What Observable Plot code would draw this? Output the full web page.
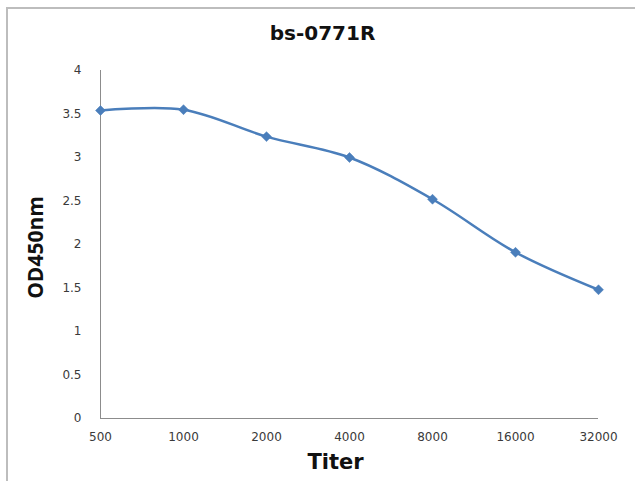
<!DOCTYPE html>
<html>
<head>
<meta charset="utf-8">
<script src="https://cdn.jsdelivr.net/npm/d3@7"></script>
<script src="https://cdn.jsdelivr.net/npm/@observablehq/plot@0.6"></script>
<style>
  html, body { margin: 0; padding: 0; background: #fff; overflow: hidden; }
  #wrap { position: relative; width: 635px; height: 481px; }
  #border { position: absolute; left: 6px; top: 7px; width: 700px; height: 600px;
            border-left: 2px solid #bdbdbd; border-top: 2px solid #bdbdbd; }
  #chart { position: absolute; left: 0; top: 0; }
</style>
</head>
<body>
<div id="wrap"><div id="border"></div><div id="chart"></div></div>
<script>
const titers = ["500", "1000", "2000", "4000", "8000", "16000", "32000"];
const od450 = [3.54, 3.55, 3.24, 3.00, 2.52, 1.91, 1.48];
const yTicks = [0, 0.5, 1, 1.5, 2, 2.5, 3, 3.5, 4];

const data = titers.map((t, i) => ({titer: t, od: od450[i]}));
const blue = "#4a7ebb";
const tickFont = "DejaVu Sans, Verdana, sans-serif";
const titleFont = "DejaVu Sans, Verdana, sans-serif";
const yLabelFont = "Open Sans, DejaVu Sans, sans-serif";

const chart = Plot.plot({
  width: 635,
  height: 481,
  marginLeft: 100,
  marginRight: 37,
  marginTop: 70,
  marginBottom: 63,
  style: {fontFamily: tickFont, fontSize: "12px", color: "#3a3a3a", background: "transparent"},
  x: {type: "point", domain: titers, padding: 0, label: null},
  y: {domain: [0, 4], label: null},
  marks: [
    Plot.axisY({ticks: yTicks, tickSize: 0, tickPadding: 19, tickFormat: d => String(d), fontSize: 12, fontFamily: tickFont}),
    Plot.axisX({tickSize: 0, tickPadding: 14, fontSize: 12, fontFamily: tickFont}),
    Plot.ruleX([titers[0]], {stroke: "#8c8c8c", strokeWidth: 1}),
    Plot.ruleY([0], {stroke: "#8c8c8c", strokeWidth: 1}),
    Plot.line(data, {x: "titer", y: "od", stroke: blue, strokeWidth: 2.5, curve: "catmull-rom"}),
    Plot.dot(data, {x: "titer", y: "od", symbol: "diamond2", r: 4.5, fill: blue, stroke: blue, strokeWidth: 0.5}),
    Plot.text(["bs-0771R"], {frameAnchor: "top", lineAnchor: "middle", dx: -27, dy: -37, fontSize: 20, fontWeight: "bold", fill: "#111", fontFamily: titleFont}),
    Plot.text(["Titer"], {frameAnchor: "bottom", lineAnchor: "middle", dx: -14, dy: 44, fontSize: 21, fontWeight: "bold", fill: "#111", fontFamily: titleFont}),
    Plot.text(["OD450nm"], {frameAnchor: "left", textAnchor: "middle", lineAnchor: "middle", dx: -64, dy: 3, rotate: -90, fontSize: 21, fontWeight: "bold", fill: "#111", fontFamily: yLabelFont})
  ]
});
document.getElementById("chart").appendChild(chart);
</script>
</body>
</html>
